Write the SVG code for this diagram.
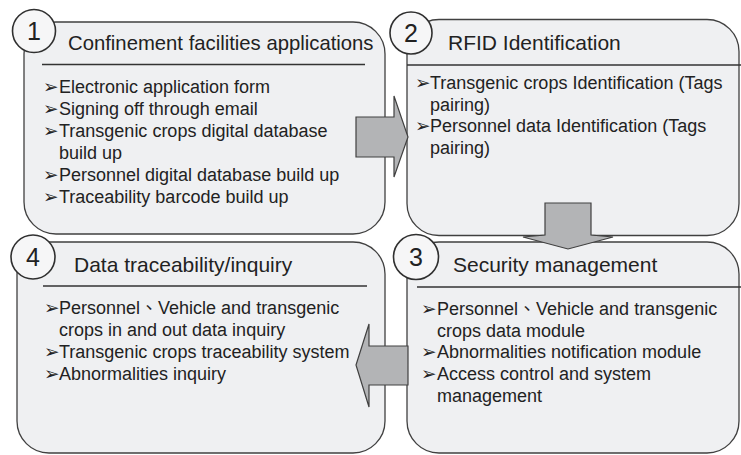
<svg xmlns="http://www.w3.org/2000/svg" width="741" height="455" viewBox="0 0 741 455">
  <style>
    .box { fill: #eff0f2; stroke: #404040; stroke-width: 1.3; }
    .rule { stroke: #333; stroke-width: 1.4; }
    .badge { fill: #f6f6f7; stroke: #303030; stroke-width: 1.6; }
    .num { font-family: "Liberation Sans", Arial, sans-serif; font-size: 25px; fill: #222; text-anchor: middle; }
    .title { font-family: "Liberation Sans", Arial, sans-serif; font-size: 21px; fill: #222; }
    .item { font-family: "Liberation Sans", Arial, "Noto Sans CJK TC", sans-serif; font-size: 18px; fill: #222; }
    .bul { font-family: "DejaVu Sans", sans-serif; font-size: 18.5px; fill: #222; }
    .flow { fill: #b3b4b6; stroke: #404040; stroke-width: 1.2; stroke-linejoin: miter; }
  </style>

  <!-- Step 1 -->
  <g id="node1">
    <rect class="box" x="24" y="22" width="361" height="212" rx="32" ry="32"/>
    <line class="rule" x1="42" y1="64.5" x2="365" y2="64.5"/>
    <text class="title" x="68" y="50" style="font-size:20.3px">Confinement facilities applications</text>
    <text class="item"><tspan class="bul" x="43" y="93">➢</tspan><tspan x="59" y="93">Electronic application form</tspan></text>
    <text class="item"><tspan class="bul" x="43" y="115">➢</tspan><tspan x="59" y="115">Signing off through email</tspan></text>
    <text class="item"><tspan class="bul" x="43" y="137">➢</tspan><tspan x="59" y="137">Transgenic crops digital database</tspan></text>
    <text class="item" x="59" y="159">build up</text>
    <text class="item"><tspan class="bul" x="43" y="181">➢</tspan><tspan x="59" y="181">Personnel digital database build up</tspan></text>
    <text class="item"><tspan class="bul" x="43" y="203">➢</tspan><tspan x="59" y="203">Traceability barcode build up</tspan></text>
    <circle class="badge" cx="34" cy="31" r="21.5"/>
    <text class="num" x="34" y="40">1</text>
  </g>

  <!-- Step 2 -->
  <g id="node2">
    <rect class="box" x="407" y="19.5" width="332" height="216" rx="32" ry="32"/>
    <line class="rule" x1="407" y1="65" x2="741" y2="65"/>
    <text class="title" x="448" y="50">RFID Identification</text>
    <text class="item"><tspan class="bul" x="415" y="89">➢</tspan><tspan x="430" y="89">Transgenic crops Identification (Tags</tspan></text>
    <text class="item" x="430" y="111">pairing)</text>
    <text class="item"><tspan class="bul" x="415" y="132">➢</tspan><tspan x="430" y="132">Personnel data Identification (Tags</tspan></text>
    <text class="item" x="430" y="154">pairing)</text>
    <circle class="badge" cx="411" cy="33" r="21"/>
    <text class="num" x="411" y="42">2</text>
  </g>

  <!-- Step 3 -->
  <g id="node3">
    <rect class="box" x="407" y="242" width="332" height="211" rx="32" ry="32"/>
    <line class="rule" x1="417" y1="287" x2="741" y2="287"/>
    <text class="title" x="453" y="272">Security management</text>
    <text class="item"><tspan class="bul" x="421" y="315">➢</tspan><tspan x="437" y="315">Personnel、Vehicle and transgenic</tspan></text>
    <text class="item" x="437" y="337">crops data module</text>
    <text class="item"><tspan class="bul" x="421" y="358">➢</tspan><tspan x="437" y="358">Abnormalities notification module</tspan></text>
    <text class="item"><tspan class="bul" x="421" y="380">➢</tspan><tspan x="437" y="380">Access control and system</tspan></text>
    <text class="item" x="437" y="402">management</text>
    <circle class="badge" cx="416" cy="257" r="22.5"/>
    <text class="num" x="416" y="266">3</text>
  </g>

  <!-- Step 4 -->
  <g id="node4">
    <rect class="box" x="17" y="242" width="368" height="211" rx="32" ry="32"/>
    <line class="rule" x1="43" y1="286" x2="367" y2="286"/>
    <text class="title" x="74" y="272">Data traceability/inquiry</text>
    <text class="item"><tspan class="bul" x="44" y="314">➢</tspan><tspan x="59" y="314">Personnel、Vehicle and transgenic</tspan></text>
    <text class="item" x="59" y="336">crops in and out data inquiry</text>
    <text class="item"><tspan class="bul" x="44" y="358">➢</tspan><tspan x="59" y="358">Transgenic crops traceability system</tspan></text>
    <text class="item"><tspan class="bul" x="44" y="380">➢</tspan><tspan x="59" y="380">Abnormalities inquiry</tspan></text>
    <circle class="badge" cx="33" cy="257" r="22"/>
    <text class="num" x="33" y="266">4</text>
  </g>

  <!-- Block arrows between the steps -->
  <g id="connectors">
    <polygon class="flow" points="356,117 394,117 394,96 408,137 394,177 394,157 356,157"/>
    <polygon class="flow" points="545,203 591,203 591,235 613,237 568,249 523,237 545,235"/>
    <polygon class="flow" points="408,346 369,346 369,324 356,365 369,407 369,385 408,385"/>
  </g>
</svg>
